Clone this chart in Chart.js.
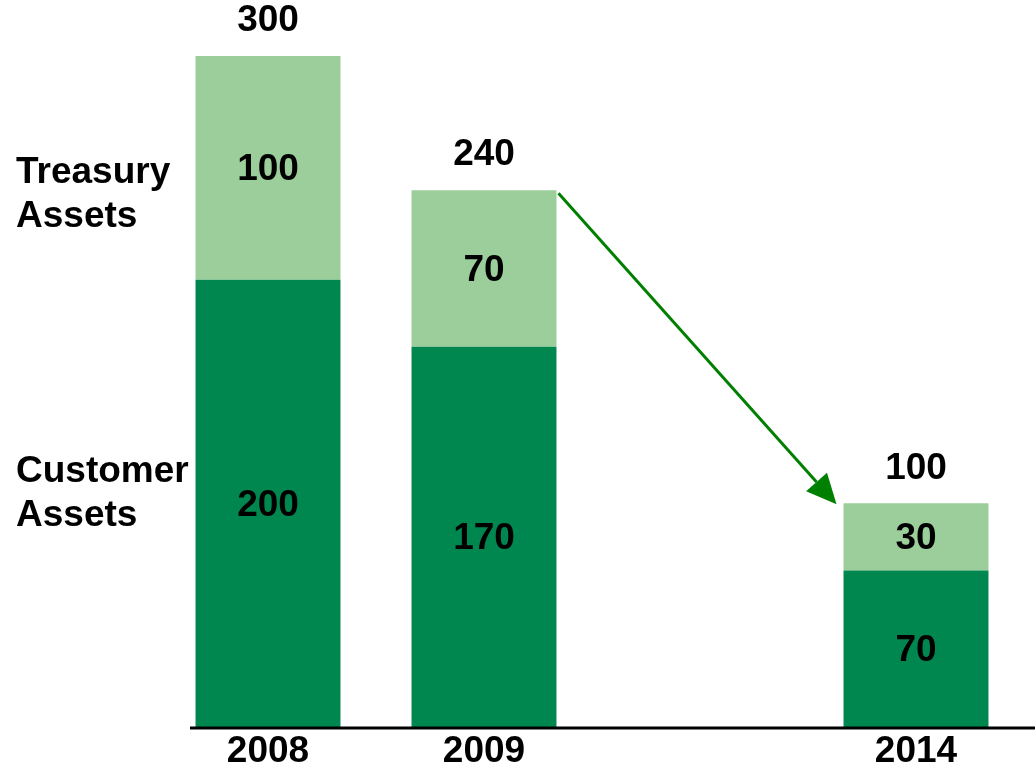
<!DOCTYPE html>
<html>
<head>
<meta charset="utf-8">
<script src="https://cdn.jsdelivr.net/npm/chart.js@4/dist/chart.umd.min.js"></script>
<style>
  html, body { margin: 0; padding: 0; background: #fff; }
  #wrap { width: 1035px; height: 770px; position: relative; }
</style>
</head>
<body>
<div id="wrap"><canvas id="assetsChart"></canvas></div>
<script>
// years on the axis; the empty slot keeps the gap between 2009 and 2014
var years = ['2008', '2009', '', '2014'];
var customerAssets = [200, 170, null, 70];
var treasuryAssets = [100, 70, null, 30];
var totals = [300, 240, null, 100];

var FONT = '"Liberation Sans", Arial, sans-serif';

// value labels inside segments and totals above each bar
var labelPlugin = {
    id: 'valueLabels',
    afterDatasetsDraw: function (chart) {
        var ctx = chart.ctx;
        ctx.save();
        ctx.fillStyle = '#000';
        ctx.font = 'bold 37px ' + FONT;
        ctx.textAlign = 'center';
        ctx.textBaseline = 'middle';
        chart.data.datasets.forEach(function (ds, i) {
            chart.getDatasetMeta(i).data.forEach(function (bar, j) {
                if (ds.data[j] == null) return;
                ctx.fillText(String(ds.data[j]), bar.x, (bar.y + bar.base) / 2 + 2);
            });
        });
        var topMeta = chart.getDatasetMeta(1).data;
        totals.forEach(function (t, j) {
            if (t == null) return;
            ctx.fillText(String(t), topMeta[j].x, topMeta[j].y - 35);
        });

        // series names at the left
        ctx.textAlign = 'left';
        ctx.fillText('Treasury', 16, 173);
        ctx.fillText('Assets', 16, 217);
        ctx.fillText('Customer', 16, 472);
        ctx.fillText('Assets', 16, 516);

        // baseline
        ctx.strokeStyle = '#000';
        ctx.lineWidth = 3;
        ctx.beginPath();
        ctx.moveTo(chart.chartArea.left + 30, chart.chartArea.bottom + 1);
        ctx.lineTo(chart.width, chart.chartArea.bottom + 1);
        ctx.stroke();

        // arrow from the 2009 bar down to the 2014 bar
        var from = topMeta[1], to = topMeta[3];
        var x1 = from.x + from.width / 2 + 2, y1 = from.y + 3;
        var x2 = to.x - to.width / 2 - 7, y2 = to.y + 1;
        var ang = Math.atan2(y2 - y1, x2 - x1);
        var headLen = 30, headW = 14;
        ctx.strokeStyle = '#008000';
        ctx.fillStyle = '#008000';
        ctx.lineWidth = 3;
        ctx.beginPath();
        ctx.moveTo(x1, y1);
        ctx.lineTo(x2 - headLen * Math.cos(ang), y2 - headLen * Math.sin(ang));
        ctx.stroke();
        ctx.beginPath();
        ctx.moveTo(x2, y2);
        ctx.lineTo(x2 - headLen * Math.cos(ang) + headW * Math.sin(ang), y2 - headLen * Math.sin(ang) - headW * Math.cos(ang));
        ctx.lineTo(x2 - headLen * Math.cos(ang) - headW * Math.sin(ang), y2 - headLen * Math.sin(ang) + headW * Math.cos(ang));
        ctx.closePath();
        ctx.fill();
        ctx.restore();
    }
};

var chartElement = document.getElementById('assetsChart').getContext('2d');
var chartObject = new Chart(chartElement, {
    type: 'bar',
    data: {
        labels: years,
        datasets: [{
            label: 'Customer Assets',
            data: customerAssets,
            backgroundColor: '#00874F'
        }, {
            label: 'Treasury Assets',
            data: treasuryAssets,
            backgroundColor: '#9BCE9A'
        }]
    },
    options: {
        responsive: true,
        maintainAspectRatio: false,
        animation: false,
        layout: { padding: { left: 160, right: 11, top: 56, bottom: -7 } },
        plugins: {
            legend: { display: false },
            tooltip: { enabled: false }
        },
        datasets: {
            bar: { barPercentage: 0.671, categoryPercentage: 1 }
        },
        scales: {
            x: {
                stacked: true,
                grid: { display: false, drawTicks: false },
                border: { display: false },
                ticks: {
                    color: '#000',
                    padding: 10,
                    font: { family: FONT, size: 37, weight: 'bold', lineHeight: 0.81 }
                }
            },
            y: {
                stacked: true,
                display: false,
                min: 0,
                max: 300
            }
        }
    },
    plugins: [labelPlugin]
});
</script>
</body>
</html>
